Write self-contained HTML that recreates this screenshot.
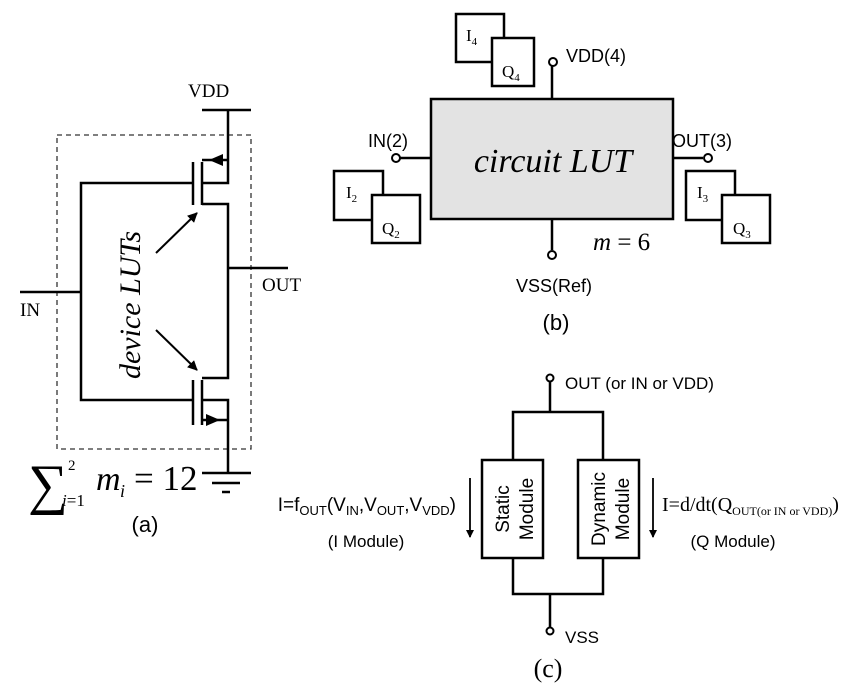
<!DOCTYPE html>
<html><head><meta charset="utf-8"><style>
html,body{margin:0;padding:0;background:#fff;}
svg{display:block;}
.s{font-family:"Liberation Sans",sans-serif;}
.r{font-family:"Liberation Serif",serif;}
</style></head><body>
<svg width="868" height="688" viewBox="0 0 868 688" xmlns="http://www.w3.org/2000/svg">
<defs>
<marker id="ah" markerWidth="10" markerHeight="10" refX="9" refY="5" orient="auto" markerUnits="userSpaceOnUse"><path d="M0,0 L10,5 L0,10 z" fill="#000"/></marker>
<marker id="ah2" markerWidth="8" markerHeight="14" refX="7" refY="4" orient="auto" markerUnits="userSpaceOnUse"><path d="M0,0 L8,4 L0,8 z" fill="#000"/></marker>
</defs>
<g stroke="#000" stroke-width="2.5" fill="none">
<rect x="57" y="135" width="194" height="314" stroke-width="1.3" stroke-dasharray="5,4" stroke="#333"/>
<line x1="202" y1="110" x2="251" y2="110"/>
<polyline points="228,110 228,183 202,183"/>
<line x1="202" y1="160" x2="228" y2="160"/>
<polyline points="202,204 228,204 228,378 202,378"/>
<line x1="193" y1="162" x2="193" y2="205"/>
<line x1="202" y1="162" x2="202" y2="205"/>
<polyline points="193,183 81,183 81,400 193,400"/>
<line x1="20" y1="292" x2="81" y2="292"/>
<line x1="228" y1="268" x2="288" y2="268"/>
<line x1="193" y1="380" x2="193" y2="425"/>
<line x1="202" y1="380" x2="202" y2="425"/>
<polyline points="202,400 228,400 228,473"/>
<line x1="202" y1="420" x2="228" y2="420"/>
<line x1="202" y1="473" x2="251" y2="473"/>
<line x1="212" y1="483" x2="240" y2="483"/>
<line x1="222" y1="492" x2="230" y2="492"/>
<line x1="156" y1="253" x2="197" y2="213" stroke-width="2" marker-end="url(#ah)"/>
<line x1="156" y1="330" x2="197" y2="370" stroke-width="2" marker-end="url(#ah)"/>
</g>
<path d="M223,154 L209,160 L223,166 z"/>
<path d="M206,414 L220,420 L206,426 z"/>
<text x="188" y="97" class="r" font-size="19">VDD</text>
<text x="262" y="291" class="r" font-size="19">OUT</text>
<text x="20" y="316" class="r" font-size="19">IN</text>
<text transform="translate(140,305) rotate(-90)" text-anchor="middle" class="r" font-size="30" font-style="italic">device LUTs</text>
<text x="28" y="503" class="r" font-size="56">∑</text>
<text x="68" y="470" class="r" font-size="15">2</text>
<text x="62" y="506" class="r" font-size="17"><tspan font-style="italic">i</tspan>=1</text>
<text x="96" y="490" class="r" font-size="34" font-style="italic">m</text>
<text x="120" y="497" class="r" font-size="18" font-style="italic">i</text>
<text x="134" y="490" class="r" font-size="35">= 12</text>
<text x="145" y="532" class="s" font-size="22" text-anchor="middle">(a)</text>
<g stroke="#000" stroke-width="2.5">
<rect x="431" y="99" width="242" height="120" fill="#e3e3e3"/>
<line x1="552" y1="66" x2="552" y2="99"/>
<line x1="400" y1="158" x2="431" y2="158"/>
<line x1="673" y1="158" x2="703" y2="158"/>
<line x1="552" y1="219" x2="552" y2="250"/>
<rect x="456" y="14" width="48" height="48" fill="#fff"/>
<rect x="492" y="38" width="42" height="48" fill="#fff"/>
<rect x="334" y="171" width="49" height="49" fill="#fff"/>
<rect x="372" y="195" width="48" height="48" fill="#fff"/>
<rect x="686" y="171" width="49" height="49" fill="#fff"/>
<rect x="722" y="195" width="48" height="48" fill="#fff"/>
</g>
<g stroke="#000" stroke-width="2" fill="#fff">
<circle cx="553" cy="62" r="4"/><circle cx="396" cy="158" r="4"/><circle cx="708" cy="158" r="4"/><circle cx="552" cy="255" r="4"/>
</g>
<text x="553" y="172" class="r" font-size="34" font-style="italic" text-anchor="middle">circuit LUT</text>
<text x="566" y="62" class="s" font-size="18">VDD(4)</text>
<text x="368" y="147" class="s" font-size="18">IN(2)</text>
<text x="672" y="147" class="s" font-size="18">OUT(3)</text>
<text x="554" y="292" class="s" font-size="18" text-anchor="middle">VSS(Ref)</text>
<text x="556" y="330" class="s" font-size="22" text-anchor="middle">(b)</text>
<text x="593" y="250" class="r" font-size="25"><tspan font-style="italic">m</tspan> = 6</text>
<text x="466" y="41" class="r" font-size="17">I<tspan font-size="11" dy="4">4</tspan></text>
<text x="502" y="77" class="r" font-size="17">Q<tspan font-size="11" dy="4">4</tspan></text>
<text x="346" y="198" class="r" font-size="17">I<tspan font-size="11" dy="4">2</tspan></text>
<text x="382" y="234" class="r" font-size="17">Q<tspan font-size="11" dy="4">2</tspan></text>
<text x="697" y="198" class="r" font-size="17">I<tspan font-size="11" dy="4">3</tspan></text>
<text x="733" y="234" class="r" font-size="17">Q<tspan font-size="11" dy="4">3</tspan></text>
<g stroke="#000" stroke-width="2.5" fill="none">
<line x1="550" y1="382" x2="550" y2="412"/>
<polyline points="513,460 513,412 603,412 603,460"/>
<rect x="482" y="460" width="61" height="98" fill="#fff"/>
<rect x="578" y="460" width="61" height="98" fill="#fff"/>
<polyline points="513,558 513,594 603,594 603,558"/>
<line x1="550" y1="594" x2="550" y2="627"/>
<line x1="470" y1="478" x2="470" y2="537" stroke-width="1.8" marker-end="url(#ah2)"/>
<line x1="653" y1="478" x2="653" y2="537" stroke-width="1.8" marker-end="url(#ah2)"/>
</g>
<g stroke="#000" stroke-width="2" fill="#fff"><circle cx="550" cy="378" r="3.5"/><circle cx="550" cy="631" r="3.5"/></g>
<text x="565" y="389" class="s" font-size="17">OUT (or IN or VDD)</text>
<text x="565" y="643" class="s" font-size="17">VSS</text>
<text x="548" y="677" class="r" font-size="26" text-anchor="middle">(c)</text>
<text transform="translate(509,509) rotate(-90)" class="s" font-size="19" text-anchor="middle">Static</text>
<text transform="translate(533,509) rotate(-90)" class="s" font-size="19" text-anchor="middle">Module</text>
<text transform="translate(605,509) rotate(-90)" class="s" font-size="19" text-anchor="middle">Dynamic</text>
<text transform="translate(629,509) rotate(-90)" class="s" font-size="19" text-anchor="middle">Module</text>
<text x="456" y="511" class="s" font-size="19" text-anchor="end">I=f<tspan font-size="13" dy="4">OUT</tspan><tspan dy="-4">(V</tspan><tspan font-size="13" dy="4">IN</tspan><tspan dy="-4">,V</tspan><tspan font-size="13" dy="4">OUT</tspan><tspan dy="-4">,V</tspan><tspan font-size="13" dy="4">VDD</tspan><tspan dy="-4">)</tspan></text>
<text x="366" y="547" class="s" font-size="17" text-anchor="middle">(I Module)</text>
<text x="662" y="511" class="r" font-size="20">I=d/dt(Q<tspan font-size="12" dy="4">OUT(or IN or VDD)</tspan><tspan dy="-4">)</tspan></text>
<text x="733" y="547" class="s" font-size="17" text-anchor="middle">(Q Module)</text>
</svg>
</body></html>
